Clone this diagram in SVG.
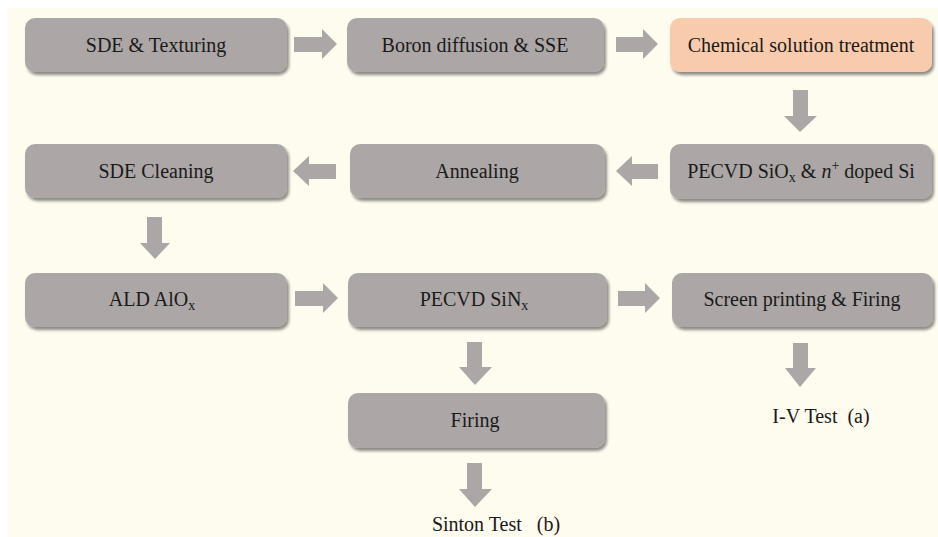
<svg xmlns="http://www.w3.org/2000/svg" width="938" height="537" viewBox="0 0 938 537">
<defs>
<filter id="sh" x="-10%" y="-20%" width="120%" height="150%">
<feGaussianBlur in="SourceAlpha" stdDeviation="1.5"/>
<feOffset dx="2" dy="2.5" result="b"/>
<feComponentTransfer><feFuncA type="linear" slope="0.45"/></feComponentTransfer>
<feMerge><feMergeNode/><feMergeNode in="SourceGraphic"/></feMerge>
</filter>
</defs>
<style>
.box{fill:#aca7a6;filter:url(#sh)}
.hl{fill:#f8cbad}
.t{font-family:"Liberation Serif","Times New Roman",serif;font-size:20px;fill:#1a1a1a;text-anchor:middle}
.s{font-size:14px}
.ar{fill:#aca7a6}
</style>
<rect x="7" y="8" width="931" height="529" fill="#fefbef"/>
<g id="connectors">
<polygon class="ar" points="294,37 322,37 322,29 337,44 322,59 322,52 294,52"/>
<polygon class="ar" points="616,37 643,37 643,29 658,44 643,59 643,52 616,52"/>
<polygon class="ar" points="793,90 808,90 808,116 817,116 800,132 784,116 793,116"/>
<polygon class="ar" points="658,164 632,164 632,156 616,171 632,186 632,179 658,179"/>
<polygon class="ar" points="336,164 309,164 309,156 293,171 309,186 309,179 336,179"/>
<polygon class="ar" points="147,217 162,217 162,243 170,243 155,259 140,243 147,243"/>
<polygon class="ar" points="295,291 323,291 323,283 338,298 323,313 323,306 295,306"/>
<polygon class="ar" points="618,291 645,291 645,283 660,298 645,313 645,306 618,306"/>
<polygon class="ar" points="467,342 482,342 482,367 492,367 475,385 459,367 467,367"/>
<polygon class="ar" points="467,463 482,463 482,489 492,489 475,507 459,489 467,489"/>
<polygon class="ar" points="793,343 808,343 808,368 816,368 800,387 785,368 793,368"/>
</g>
<g id="n1"><rect class="box" x="25" y="18" width="262" height="54" rx="10"/><text class="t" x="156" y="52">SDE &amp; Texturing</text></g>
<g id="n2"><rect class="box" x="347" y="18" width="257" height="54" rx="10"/><text class="t" x="475" y="52">Boron diffusion &amp; SSE</text></g>
<g id="n3"><rect class="box hl" x="670" y="18" width="262" height="54" rx="10"/><text class="t" x="801" y="52">Chemical solution treatment</text></g>
<g id="n4"><rect class="box" x="670" y="144" width="262" height="55" rx="10"/><text class="t" x="801" y="178">PECVD SiO<tspan class="s" dy="4">x</tspan><tspan dy="-4"> &amp; </tspan><tspan font-style="italic">n</tspan><tspan class="s" dy="-8">+</tspan><tspan dy="8"> doped Si</tspan></text></g>
<g id="n5"><rect class="box" x="350" y="144" width="255" height="54" rx="10"/><text class="t" x="477" y="178">Annealing</text></g>
<g id="n6"><rect class="box" x="25" y="144" width="262" height="54" rx="10"/><text class="t" x="156" y="178">SDE Cleaning</text></g>
<g id="n7"><rect class="box" x="25" y="273" width="262" height="54" rx="10"/><text class="t" x="152" y="306">ALD AlO<tspan class="s" dy="4">x</tspan></text></g>
<g id="n8"><rect class="box" x="348" y="273" width="259" height="54" rx="10"/><text class="t" x="474" y="306">PECVD SiN<tspan class="s" dy="4">x</tspan></text></g>
<g id="n9"><rect class="box" x="672" y="273" width="261" height="54" rx="10"/><text class="t" x="802" y="306">Screen printing &amp; Firing</text></g>
<g id="n10"><rect class="box" x="348" y="393" width="257" height="55" rx="10"/><text class="t" x="475" y="427">Firing</text></g>
<g id="n11"><text class="t" x="821" y="423" xml:space="preserve">I-V Test  (a)</text></g>
<g id="n12"><text class="t" x="496" y="531" xml:space="preserve">Sinton Test   (b)</text></g>
</svg>
